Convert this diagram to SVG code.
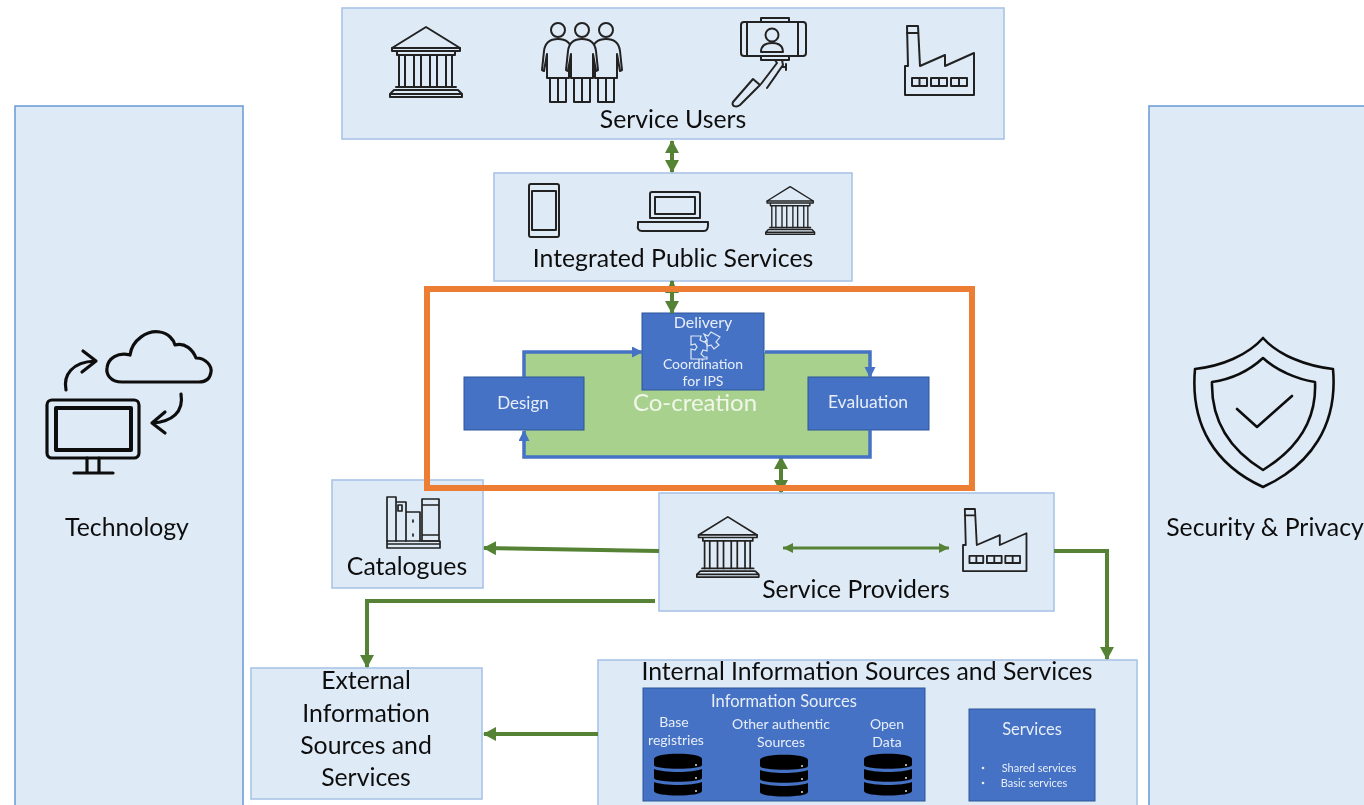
<svg xmlns="http://www.w3.org/2000/svg" width="1364" height="805" viewBox="0 0 1364 805">
<style>
text{font-family:"Lato","Carlito","Open Sans",sans-serif;text-anchor:middle}
.panel{fill:#deeaf6;stroke:#a9c4e8;stroke-width:1.6}
.side{fill:#deeaf6;stroke:#6f9fd8;stroke-width:1.6}
.blue{fill:#4472c4;stroke:#2f5597;stroke-width:1}
.lbl{fill:#111;font-size:24.8px}
.w{fill:#e8eef8}
.ic{fill:none;stroke:#222;stroke-width:2;stroke-linejoin:round;stroke-linecap:round}
.g{fill:none;stroke:#548235;stroke-width:4}
.b{fill:none;stroke:#4472c4;stroke-width:3.5}
</style>
<defs>
<filter id="soft" x="0" y="0" width="100%" height="100%" filterUnits="userSpaceOnUse"><feGaussianBlur stdDeviation="0.45"/></filter>
<marker id="ga" markerUnits="userSpaceOnUse" markerWidth="14" markerHeight="14" refX="12" refY="7" orient="auto-start-reverse"><path d="M0 0L13 7L0 14Z" fill="#548235"/></marker>
<marker id="gs" markerUnits="userSpaceOnUse" markerWidth="12" markerHeight="12" refX="10" refY="5" orient="auto-start-reverse"><path d="M0 0L10 5L0 10Z" fill="#548235"/></marker>
<marker id="ba" markerUnits="userSpaceOnUse" markerWidth="12" markerHeight="12" refX="10" refY="5.5" orient="auto"><path d="M0 0L11 5.5L0 11Z" fill="#4472c4"/></marker>
<g id="bank" class="ic">
<path d="M37 1L3 22H71Z"/><path d="M3 22V25H71V22M8 25V29H66V25"/>
<path d="M10 29V61M16 29V61M25 29V61M32 29V61M41 29V61M48 29V61M57 29V61M63 29V61"/>
<path d="M7 61H67M6 64H68M5 64L1 68V71H73V68L69 64M1 68H73"/>
</g>
<g id="fact" class="ic">
<path d="M0 69V40H3L2 0H13L15 40L40 29V40L69 27V69Z"/>
<path d="M2 7H13"/>
<path d="M7 52H22V60H7ZM14.500 52V60M26 52H42V60H26ZM34 52V60M46 52H62V60H46ZM54 52V60"/>
</g>
<path id="fig" d="M0 9C-8 9-13 13-14 21L-16 40L-14 41L-11 24V48H11V24L14 41L16 40L14 21C13 13 8 9 0 9ZM-8 48V72H8V48M0 48V72" fill="#deeaf6"/>
<g id="db">
<path d="M0 5C0 -2 48 -2 48 5V11C48 16 0 16 0 11Z" fill="#050505"/>
<path d="M0 15C10 19 38 19 48 15V24C48 29 0 29 0 24Z" fill="#050505"/>
<path d="M0 28C10 32 38 32 48 28V37C48 43 0 43 0 37Z" fill="#050505"/>
<circle cx="42" cy="11" r="1" fill="#ddd"/><circle cx="42" cy="24" r="1" fill="#ddd"/><circle cx="42" cy="37" r="1" fill="#ddd"/>
</g>
</defs>
<g filter="url(#soft)">
<g id="technology">
<rect class="side" x="15" y="106" width="228" height="720"/>
<g class="ic" style="stroke:#111;stroke-width:3.2">
<path d="M122 382C110 382 106 374 107 368C108 358 118 352 130 355C132 340 147 330 160 332C168 333 174 340 175 345C185 342 193 350 196 358C206 358 212 366 211 372C210 379 205 382 199 382Z"/>
<path d="M66 390C63 375 72 362 95 361M83 351L96 361L82 372"/>
<path d="M181 394C184 412 172 422 152 423M165 412L152 423L165 433"/>
<rect x="47" y="400" width="92" height="58" rx="5"/><rect x="56" y="408" width="75" height="42" stroke-width="4"/>
<path d="M87 458V472M99 458V472M74 473H113"/>
</g>
<text class="lbl" x="127" y="536">Technology</text>
</g>

<g id="security">
<rect class="side" x="1149" y="106" width="230" height="720"/>
<g class="ic" style="stroke:#111;stroke-width:2.6">
<path d="M1263 338C1248 355 1222 366 1195 369C1190 425 1215 465 1263 487C1311 465 1338 425 1333 369C1306 366 1278 355 1263 338Z"/>
<path d="M1263 358C1250 370 1233 379 1212 382C1211 423 1232 451 1263 470C1294 451 1317 423 1315 382C1296 379 1276 370 1263 358Z"/>
<path d="M1237 409L1257 427L1292 396"/>
</g>
<text class="lbl" x="1265" y="536">Security &amp; Privacy</text>
</g>

<g id="service-users">
<rect class="panel" x="342" y="8" width="662" height="131"/>
<use href="#bank" transform="translate(389,26)"/>
<g class="ic" id="people">
<circle cx="558" cy="30" r="7"/><circle cx="582" cy="30" r="7"/><circle cx="606" cy="30" r="7"/>
<use href="#fig" x="558" y="30"/><use href="#fig" x="606" y="30"/><use href="#fig" x="582" y="30"/>
</g>
<g class="ic" id="selfie">
<rect x="741" y="22" width="65" height="34" rx="3"/><path d="M747 22V56M798 22V56M761 22V18H789V22M761 56V60H789V56"/>
<circle cx="772" cy="35" r="6.500"/><path d="M761 52C761 45 766 43 772 43C778 43 783 45 783 52Z"/>
<path d="M775 60L777 63L761 84M782 60L783 65L767 88M782 67H786M786 64V70"/>
<path d="M733 102L753 79L760 85L740 105C736 108 731 106 733 102Z"/>
</g>
<use href="#fact" transform="translate(905,26)"/>
<text class="lbl" x="673" y="128">Service Users</text>
</g>

<g id="integrated-public-services">
<rect class="panel" x="494" y="173" width="358" height="108"/>
<g class="ic">
<rect x="529" y="184" width="30" height="53" rx="2"/><rect x="532" y="191" width="24" height="39"/>
<path d="M650 218V194C650 193 651 192 652 192H698C699 192 700 193 700 194V218H650ZM655 197H695V214H655ZM638 225C637 229 639 231 642 231H704C707 231 708 229 708 225V222H638Z"/>
</g>
<use href="#bank" transform="translate(765,186) scale(0.68)" style="stroke-width:3"/>
<text class="lbl" x="673" y="267">Integrated Public Services</text>
</g>

<g id="co-creation">
<rect x="524" y="352" width="345" height="105" fill="#a9d18e"/>
<text x="695" y="411" font-size="24" fill="#f0f6ea">Co-creation</text>
</g>

<g id="design"><rect class="blue" x="464" y="377" width="120" height="53"/><text class="w" x="523" y="409" font-size="17">Design</text></g>
<g id="evaluation"><rect class="blue" x="808" y="377" width="121" height="53"/><text class="w" x="868" y="408" font-size="17.500">Evaluation</text></g>
<g id="delivery">
<rect class="blue" x="642" y="313" width="122" height="77"/>
<text class="w" x="703" y="328" font-size="16">Delivery</text>
<g fill="none" stroke="#dfe8f6" stroke-width="1.2"><path d="M691 336H701L700 340L704 342L707 340V351L703 350L701 354L704 357H707V359H691V349L695 350L697 347L695 344L691 345Z"/><path d="M704 334L708 336L711 332L720 337L716 342L719 345L714 349L711 345L708 346L705 342L707 340Z"/></g>
<text class="w" x="703" y="369" font-size="14">Coordination</text>
<text class="w" x="703" y="386" font-size="14">for IPS</text>
</g>

<g id="catalogues">
<rect class="panel" x="332" y="480" width="151" height="108"/>
<g class="ic" style="stroke-width:1.7">
<path d="M387 541V497H396V541M396 502H406V541M398 505H402V511H398ZM406 512H420V541M413 520V522M413 534V536M422 541V499H439V541ZM422 505H439M422 535H439"/>
<path d="M387 541H440V548H387ZM387 544H440"/>
</g>
<text class="lbl" x="407" y="575">Catalogues</text>
</g>

<g id="service-providers">
<rect class="panel" x="659" y="493" width="395" height="118"/>
<use href="#bank" transform="translate(696,516) scale(0.86,0.86)"/>
<use href="#fact" transform="translate(963,509) scale(0.92,0.9)"/>
<text class="lbl" x="856" y="598">Service Providers</text>
</g>

<g id="external">
<rect class="panel" x="251" y="668" width="231" height="131"/>
<text class="lbl" x="366" y="689">External</text>
<text class="lbl" x="366" y="722">Information</text>
<text class="lbl" x="366" y="754">Sources and</text>
<text class="lbl" x="366" y="786">Services</text>
</g>

<g id="internal">
<rect class="panel" x="598" y="660" width="539" height="160"/>
<text class="lbl" x="867" y="680">Internal Information Sources and Services</text>
<g id="information-sources">
<rect class="blue" x="643" y="688" width="282" height="113"/>
<text class="w" x="784" y="707" font-size="16.500">Information Sources</text>
<text class="w" x="674" y="727" font-size="14">Base</text>
<text class="w" x="676" y="745" font-size="14">registries</text>
<text class="w" x="781" y="729" font-size="14">Other authentic</text>
<text class="w" x="781" y="747" font-size="14">Sources</text>
<text class="w" x="887" y="729" font-size="14">Open</text>
<text class="w" x="887" y="747" font-size="14">Data</text>
<use href="#db" x="654" y="754"/><use href="#db" x="760" y="755"/><use href="#db" x="864" y="754"/>
</g>
<g id="services">
<rect class="blue" x="969" y="709" width="126" height="92"/>
<text class="w" x="1032" y="735" font-size="16.500">Services</text>
<circle cx="983" cy="768" r="1.300" fill="#e8eef8"/><circle cx="983" cy="783" r="1.300" fill="#e8eef8"/>
<text class="w" x="1039" y="772" font-size="11">Shared services</text>
<text class="w" x="1034" y="787" font-size="11">Basic services</text>
</g>
</g>

<g id="connectors">
<path class="g" d="M672 141V172" marker-start="url(#ga)" marker-end="url(#ga)"/>
<path class="g" d="M672 281V313" marker-start="url(#ga)" marker-end="url(#ga)"/>
<path class="g" d="M781 457V492" marker-start="url(#ga)" marker-end="url(#ga)"/>
<path class="g" d="M659 551L484 548" marker-end="url(#ga)"/>
<path class="g" style="stroke-width:3" d="M783 548H949" marker-start="url(#gs)" marker-end="url(#gs)"/>
<path class="g" d="M1054 551H1107V659" marker-end="url(#ga)"/>
<path class="g" d="M655 601H367V667" marker-end="url(#ga)"/>
<path class="g" d="M598 734H484" marker-end="url(#ga)"/>
<path class="b" d="M524 377V352H642" marker-end="url(#ba)"/>
<path class="b" d="M765 352H870V377" marker-end="url(#ba)"/>
<path class="b" d="M870 430V457H524V431" marker-end="url(#ba)"/>
</g>

<rect id="highlight" x="427" y="289" width="545" height="199" fill="none" stroke="#ed7d31" stroke-width="6"/>
</g>
</svg>
